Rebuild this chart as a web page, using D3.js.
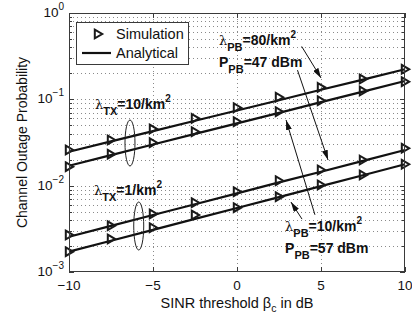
<!DOCTYPE html>
<html>
<head>
<meta charset="utf-8">
<script src="https://cdn.jsdelivr.net/npm/d3@7"></script>
<style>
  body { margin: 0; background: #fff; }
  svg { display: block; }
  text { font-family: "Liberation Sans", Arial, sans-serif; fill: #111; }
</style>
</head>
<body>
<svg id="chart" width="412" height="322"></svg>
<script>
// SINR threshold (dB) at which the curves are sampled
const sinrDb = [-10, -7.5, -5, -2.5, 0, 2.5, 5, 7.5, 10];

// analytical curves
const anaTx10Pb80 = [0.0247, 0.0326, 0.0429, 0.0564, 0.0743, 0.0977, 0.129, 0.169, 0.223];
const anaTx10Pb10 = [0.0170, 0.0226, 0.0300, 0.0398, 0.0526, 0.0698, 0.0927, 0.123, 0.163];
const anaTx1Pb80 = [0.00256, 0.00342, 0.00457, 0.00610, 0.00813, 0.0109, 0.0145, 0.0194, 0.0259];
const anaTx1Pb10 = [0.00172, 0.00230, 0.00308, 0.00412, 0.00551, 0.00737, 0.00989, 0.0132, 0.0177];

// simulation points
const simTx10Pb80 = [0.0259, 0.0338, 0.0453, 0.0602, 0.0800, 0.1057, 0.1377, 0.172, 0.223];
const simTx10Pb10 = [0.0166, 0.0231, 0.0315, 0.0422, 0.0551, 0.0719, 0.0964, 0.125, 0.160];
const simTx1Pb80 = [0.00268, 0.00343, 0.00470, 0.00635, 0.00851, 0.0114, 0.0152, 0.0198, 0.0271];
const simTx1Pb10 = [0.00172, 0.00241, 0.00326, 0.00457, 0.00556, 0.00745, 0.0102, 0.0133, 0.0177];

const xTicks = [-10, -5, 0, 5, 10];
const xTickLabels = ['\u221210', '\u22125', '0', '5', '10'];
const yDecades = [1e-3, 1e-2, 1e-1, 1];
const yExponents = ['\u22123', '\u22122', '\u22121', '0'];

const analytical = [anaTx10Pb80, anaTx10Pb10, anaTx1Pb80, anaTx1Pb10];
const simulation = [simTx10Pb80, simTx10Pb10, simTx1Pb80, simTx1Pb10];

const width = 412;
const height = 322;
const margin = { top: 13, right: 7, bottom: 50, left: 69 };
const axisColor = '#3a3a3a';
const gridColor = '#8a8a8a';

const svg = d3.select('#chart');

const x = d3.scaleLinear().domain([-10, 10]).range([margin.left, width - margin.right]);
const y = d3.scaleLog().domain([1e-3, 1]).range([height - margin.bottom, margin.top]);

const [x0, x1] = x.range();
const [y0, y1] = y.range();

svg.append('rect').attr('width', width).attr('height', height).attr('fill', '#fff');

// grid
const gridG = svg.append('g')
  .attr('stroke', gridColor)
  .attr('stroke-width', 1)
  .attr('stroke-dasharray', '1,3');

const yGridValues = y.ticks().filter((v) => v > 1e-3 * 1.01 && v < 0.99);
gridG.selectAll('.hgrid')
  .data(yGridValues)
  .join('line')
  .attr('class', 'hgrid')
  .attr('x1', x0).attr('x2', x1)
  .attr('y1', (v) => Math.round(y(v)) + 0.5)
  .attr('y2', (v) => Math.round(y(v)) + 0.5);

gridG.selectAll('.vgrid')
  .data(xTicks.slice(1, -1))
  .join('line')
  .attr('class', 'vgrid')
  .attr('y1', y0).attr('y2', y1)
  .attr('x1', (v) => Math.round(x(v)) + 0.5)
  .attr('x2', (v) => Math.round(x(v)) + 0.5);

// ticks (inside, on all four sides)
const tickG = svg.append('g').attr('stroke', axisColor).attr('stroke-width', 1);
const isDecade = (v) => Math.abs(Math.log10(v) - Math.round(Math.log10(v))) < 1e-6;
y.ticks().forEach((v) => {
  const len = isDecade(v) ? 5 : 3;
  const py = Math.round(y(v)) + 0.5;
  tickG.append('line').attr('x1', x0).attr('x2', x0 + len).attr('y1', py).attr('y2', py);
  tickG.append('line').attr('x1', x1).attr('x2', x1 - len).attr('y1', py).attr('y2', py);
});
xTicks.forEach((v) => {
  const px = Math.round(x(v)) + 0.5;
  tickG.append('line').attr('x1', px).attr('x2', px).attr('y1', y0).attr('y2', y0 - 5);
  tickG.append('line').attr('x1', px).attr('x2', px).attr('y1', y1).attr('y2', y1 + 5);
});

// tick labels
svg.append('g').selectAll('text')
  .data(xTicks)
  .join('text')
  .attr('x', (v) => x(v))
  .attr('y', y0 + 17.5)
  .attr('text-anchor', 'middle')
  .attr('font-size', 13.5)
  .text((v, i) => xTickLabels[i]);

const yLab = svg.append('g').selectAll('text')
  .data(yDecades)
  .join('text')
  .attr('x', x0 - 5)
  .attr('y', (v) => y(v) + 4)
  .attr('text-anchor', 'end')
  .attr('font-size', 13.5);
yLab.append('tspan').text('10');
yLab.append('tspan').attr('dy', -7).attr('font-size', 10).text((v, i) => yExponents[i]);

// axis titles
svg.append('text')
  .attr('transform', `translate(27,${(y0 + y1) / 2}) rotate(-90)`)
  .attr('text-anchor', 'middle')
  .attr('font-size', 14)
  .text('Channel Outage Probability');

const xTitle = svg.append('text')
  .attr('x', (x0 + x1) / 2)
  .attr('y', 308)
  .attr('text-anchor', 'middle')
  .attr('font-size', 14.5);
xTitle.append('tspan').text('SINR threshold \u03b2');
xTitle.append('tspan').attr('dy', 4).attr('font-size', 10.5).text('c');
xTitle.append('tspan').attr('dy', -4).text(' in dB');

// curves
const line = d3.line()
  .x((d, i) => x(sinrDb[i]))
  .y((d) => y(d));

svg.append('g').selectAll('path')
  .data(analytical)
  .join('path')
  .attr('d', line)
  .attr('fill', 'none')
  .attr('stroke', '#111')
  .attr('stroke-width', 2.2);

const triangle = 'M-3.2,-4.3L4.2,0L-3.2,4.3Z';
svg.append('g').selectAll('g')
  .data(simulation)
  .join('g')
  .selectAll('path')
  .data((s) => s)
  .join('path')
  .attr('d', triangle)
  .attr('transform', (d, i) => `translate(${x(sinrDb[i])},${y(d)})`)
  .attr('fill', 'none')
  .attr('stroke', '#1a1a1a')
  .attr('stroke-width', 2)
  .attr('stroke-linejoin', 'miter');

// axis box
svg.append('rect')
  .attr('x', x0 + 0.5).attr('y', y1 + 0.5)
  .attr('width', x1 - x0 - 1).attr('height', y0 - y1 - 1)
  .attr('fill', 'none')
  .attr('stroke', axisColor)
  .attr('stroke-width', 1);

// legend
const legend = svg.append('g');
legend.append('rect')
  .attr('x', 76.5).attr('y', 22.5).attr('width', 112).attr('height', 42)
  .attr('fill', '#fff').attr('stroke', axisColor);
legend.append('path')
  .attr('d', triangle)
  .attr('transform', 'translate(98,34)')
  .attr('fill', 'none').attr('stroke', '#1a1a1a').attr('stroke-width', 2);
legend.append('line')
  .attr('x1', 82).attr('x2', 111).attr('y1', 53).attr('y2', 53)
  .attr('stroke', '#111').attr('stroke-width', 2.2);
legend.append('text').attr('x', 116).attr('y', 39).attr('font-size', 14.5).text('Simulation');
legend.append('text').attr('x', 116).attr('y', 58).attr('font-size', 14.5).text('Analytical');

// annotations (positions in data units)
const labels = [
  { x: -8.45, y: 0.0773, sym: '\u03bb', sub: 'TX', body: '=10/km', sup: '2' },
  { x: -8.51, y: 0.0078, sym: '\u03bb', sub: 'TX', body: '=1/km', sup: '2' },
  { x: -1.07, y: 0.426, sym: '\u03bb', sub: 'PB', body: '=80/km', sup: '2' },
  { x: -1.07, y: 0.237, sym: 'P', sub: 'PB', body: '=47 dBm', sup: '' },
  { x: 2.86, y: 0.00299, sym: '\u03bb', sub: 'PB', body: '=10/km', sup: '2' },
  { x: 2.86, y: 0.00166, sym: 'P', sub: 'PB', body: '=57 dBm', sup: '' },
];

const ann = svg.append('g').selectAll('text')
  .data(labels)
  .join('text')
  .attr('x', (d) => x(d.x))
  .attr('y', (d) => y(d.y))
  .attr('font-size', 14)
  .attr('font-weight', 'bold');
ann.append('tspan')
  .attr('font-weight', (d) => (d.sym === 'P' ? 'bold' : 'normal'))
  .attr('font-family', (d) => (d.sym === 'P' ? null : '"DejaVu Serif", serif'))
  .attr('font-size', (d) => (d.sym === 'P' ? 14 : 13))
  .text((d) => d.sym);
ann.append('tspan').attr('dy', 6).attr('font-size', 11).text((d) => d.sub);
ann.append('tspan').attr('dy', -6).text((d) => d.body);
ann.append('tspan').attr('dy', -7).attr('font-size', 10).text((d) => d.sup);

// ellipses grouping the two lambda_TX cases
const ellipses = [
  { x: -6.37, y: 0.0312, rx: 5, ry: 23 },
  { x: -5.85, y: 0.00341, rx: 5, ry: 24 },
];
svg.append('g').selectAll('ellipse')
  .data(ellipses)
  .join('ellipse')
  .attr('cx', (d) => x(d.x))
  .attr('cy', (d) => y(d.y))
  .attr('rx', (d) => d.rx)
  .attr('ry', (d) => d.ry)
  .attr('fill', 'none')
  .attr('stroke', '#222')
  .attr('stroke-width', 1);

// arrows
svg.append('defs').append('marker')
  .attr('id', 'head')
  .attr('markerUnits', 'userSpaceOnUse')
  .attr('markerWidth', 10).attr('markerHeight', 6)
  .attr('refX', 10).attr('refY', 3)
  .attr('orient', 'auto')
  .append('path')
  .attr('d', 'M0,0L10,3L0,6Z')
  .attr('fill', '#111');

const arrows = [
  { x1: 3.85, y1: 0.41, x2: 5.0, y2: 0.177 },
  { x1: 3.6, y1: 0.218, x2: 5.42, y2: 0.0198 },
  { x1: 4.64, y1: 0.0046, x2: 2.92, y2: 0.0577 },
  { x1: 3.87, y1: 0.0041, x2: 3.21, y2: 0.00647 },
];
svg.append('g').selectAll('line')
  .data(arrows)
  .join('line')
  .attr('x1', (d) => x(d.x1)).attr('y1', (d) => y(d.y1))
  .attr('x2', (d) => x(d.x2)).attr('y2', (d) => y(d.y2))
  .attr('stroke', '#111')
  .attr('stroke-width', 1)
  .attr('marker-end', 'url(#head)');
</script>
</body>
</html>
